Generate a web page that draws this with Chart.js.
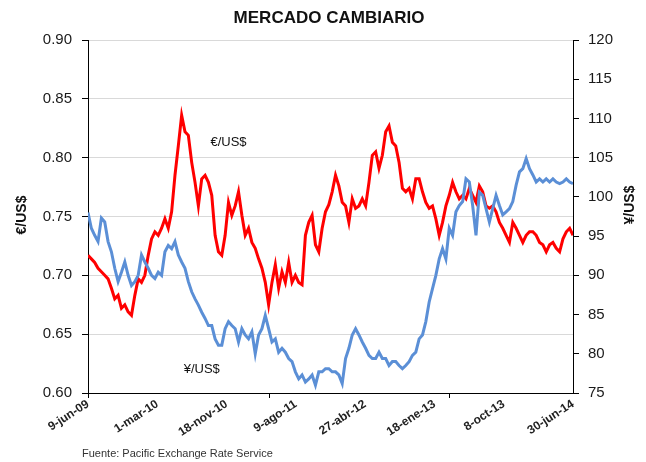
<!DOCTYPE html>
<html>
<head>
<meta charset="utf-8">
<script src="https://cdn.jsdelivr.net/npm/chart.js@4.4.1/dist/chart.umd.min.js"></script>
<style>
  html, body { margin: 0; padding: 0; background: #fff; }
  #wrap { width: 646px; height: 462px; }
</style>
</head>
<body>
<div id="wrap"><canvas id="fxChart" width="646" height="462"></canvas></div>
<script>
const chartTitle = "MERCADO CAMBIARIO";
const sourceNote = "Fuente: Pacific Exchange Rate Service";

const dateLabels = ["9-jun-09", "1-mar-10", "18-nov-10", "9-ago-11", "27-abr-12", "18-ene-13", "8-oct-13", "30-jun-14"];

// euros per dollar (left axis)
const eurUsd = [
  0.717, 0.714, 0.711, 0.706, 0.703, 0.700, 0.697, 0.689, 0.680, 0.683, 0.672, 0.675, 0.669, 0.666, 0.683, 0.697, 0.694, 0.700, 0.717, 0.731, 0.737, 0.734, 0.740, 0.748, 0.740, 0.754, 0.785, 0.810, 0.836, 0.822, 0.819, 0.796, 0.779, 0.759, 0.782, 0.785, 0.779,
  0.768, 0.734, 0.720, 0.717, 0.734, 0.762, 0.751, 0.759, 0.771, 0.751, 0.734, 0.740, 0.728, 0.723, 0.714, 0.706, 0.694, 0.675, 0.694, 0.709, 0.689, 0.703, 0.694, 0.711, 0.694, 0.700, 0.694, 0.692, 0.734, 0.745, 0.751, 0.726, 0.720, 0.740, 0.754, 0.760,
  0.771, 0.785, 0.776, 0.762, 0.759, 0.745, 0.765, 0.757, 0.759, 0.765, 0.759, 0.779, 0.802, 0.805, 0.791, 0.802, 0.822, 0.827, 0.813, 0.810, 0.796, 0.774, 0.771, 0.774, 0.765, 0.782, 0.782, 0.771, 0.762, 0.757, 0.759, 0.748, 0.734, 0.745, 0.759, 0.768,
  0.779, 0.771, 0.765, 0.768, 0.765, 0.774, 0.768, 0.762, 0.776, 0.771, 0.759, 0.757, 0.759, 0.754, 0.745, 0.740, 0.734, 0.728, 0.745, 0.740, 0.734, 0.728, 0.734, 0.737, 0.737, 0.734, 0.728, 0.726, 0.720, 0.726, 0.728, 0.723, 0.720, 0.731, 0.737, 0.740, 0.734
];

// yen per dollar (right axis)
const jpyUsd = [
  98.0, 96.0, 95.1, 94.3, 97.3, 96.8, 94.3, 93.0, 90.9, 89.2, 90.4, 91.7, 90.0, 88.7, 89.2, 90.0, 92.6, 91.7, 90.9, 90.0, 89.6, 90.4, 90.0, 93.0, 93.8, 93.4, 94.3, 92.6, 91.7, 90.9, 89.2, 87.9, 87.0, 86.2, 85.3, 84.5, 83.6,
  83.6, 81.9, 81.1, 81.1, 83.2, 84.1, 83.6, 83.2, 81.5, 83.2, 82.4, 81.9, 82.8, 80.0, 82.4, 83.2, 84.9, 83.2, 81.5, 81.9, 80.2, 80.7, 80.2, 79.4, 79.0, 77.7, 76.8, 77.3, 76.4, 76.8, 77.3, 76.0, 77.7, 77.7, 78.1, 78.1,
  77.7, 77.7, 77.3, 76.2, 79.4, 80.7, 82.4, 83.2, 82.4, 81.5, 80.7, 79.8, 79.4, 79.4, 80.2, 79.4, 79.4, 78.5, 79.0, 79.0, 78.5, 78.1, 78.5, 79.0, 79.8, 80.2, 81.9, 82.4, 84.1, 86.6, 88.3, 90.0, 92.1, 93.4, 92.1, 96.0,
  95.1, 98.1, 98.9, 99.4, 102.3, 101.9, 98.9, 95.1, 100.6, 100.2, 98.5, 96.8, 98.5, 100.2, 98.9, 97.7, 98.1, 98.5, 99.4, 101.5, 103.2, 103.6, 104.9, 103.6, 102.8, 101.9, 102.3, 101.9, 102.3, 101.9, 102.3, 101.9, 101.7, 101.9, 102.3, 101.9, 101.7
];

const lastIdx = eurUsd.length - 1;
const xMarkStep = 54;

// series names written next to the lines, placed in data units
const seriesTags = [
  { text: "€/US$", x: 42, y: 0.813, axis: "yEur" },
  { text: "¥/US$", x: 34, y: 78.0, axis: "yJpy" }
];

const decor = {
  id: "decor",
  afterDraw(chart) {
    const { ctx, chartArea, scales } = chart;
    ctx.save();
    ctx.fillStyle = "#111";

    ctx.font = 'bold 17px "Liberation Sans", Arial, sans-serif';
    ctx.textAlign = "center";
    ctx.textBaseline = "middle";
    ctx.fillText(chartTitle, 329, 18);

    // axis titles, both reading upwards
    ctx.font = 'bold 14px "Liberation Sans", Arial, sans-serif';
    ctx.save();
    ctx.translate(22, 215);
    ctx.rotate(-Math.PI / 2);
    ctx.fillText("€/US$", 0, 0);
    ctx.restore();
    ctx.save();
    ctx.translate(630, 205);
    ctx.rotate(-Math.PI / 2);
    ctx.fillText("¥/US$", 0, 0);
    ctx.restore();

    ctx.font = '13px "Liberation Sans", Arial, sans-serif';
    seriesTags.forEach(t => {
      ctx.fillText(t.text, scales.x.getPixelForValue(t.x), scales[t.axis].getPixelForValue(t.y));
    });

    // small tick marks under the date axis
    ctx.strokeStyle = "#000";
    ctx.lineWidth = 1;
    ctx.beginPath();
    for (let v = 0; v <= lastIdx; v += xMarkStep) {
      const px = Math.round(scales.x.getPixelForValue(v)) + 0.5;
      ctx.moveTo(px, chartArea.bottom);
      ctx.lineTo(px, chartArea.bottom + 5);
    }
    ctx.stroke();

    ctx.font = '11px "Liberation Sans", Arial, sans-serif';
    ctx.fillStyle = "#333";
    ctx.textAlign = "left";
    ctx.fillText(sourceNote, 82, 454);
    ctx.restore();
  }
};

new Chart(document.getElementById("fxChart"), {
  type: "line",
  data: {
    datasets: [
      {
        label: "¥/US$",
        data: jpyUsd.map((v, i) => ({ x: i, y: v })),
        yAxisID: "yJpy",
        borderColor: "#5b8fd6",
        borderWidth: 3,
        pointRadius: 0,
        tension: 0
      },
      {
        label: "€/US$",
        data: eurUsd.map((v, i) => ({ x: i, y: v })),
        yAxisID: "yEur",
        borderColor: "#ff0000",
        borderWidth: 3,
        pointRadius: 0,
        tension: 0
      }
    ]
  },
  options: {
    responsive: false,
    animation: false,
    layout: { padding: { top: 40, left: 0, right: 0, bottom: 0 } },
    plugins: {
      legend: { display: false },
      tooltip: { enabled: false }
    },
    scales: {
      x: {
        type: "linear",
        min: 0,
        max: lastIdx,
        afterBuildTicks: s => {
          s.ticks = dateLabels.map((_, i) => ({ value: i * lastIdx / (dateLabels.length - 1) }));
        },
        afterFit: s => { s.height = 69; },
        grid: { display: true, drawOnChartArea: false, drawTicks: false },
        border: { color: "#000", width: 1 },
        ticks: {
          autoSkip: false,
          minRotation: 33,
          maxRotation: 33,
          padding: 4,
          color: "#222",
          font: { family: '"Liberation Sans", Arial, sans-serif', size: 12, weight: "bold" },
          callback: (v, i) => dateLabels[i]
        }
      },
      yEur: {
        position: "left",
        min: 0.6,
        max: 0.9,
        afterFit: s => { s.width = 88; },
        grid: { color: "#d9d9d9", tickColor: "#000", tickLength: 6 },
        border: { color: "#000", width: 1 },
        ticks: {
          stepSize: 0.05,
          padding: 10,
          color: "#1a1a1a",
          font: { family: '"Liberation Sans", Arial, sans-serif', size: 15 },
          callback: v => v.toFixed(2)
        }
      },
      yJpy: {
        position: "right",
        min: 75,
        max: 120,
        afterFit: s => { s.width = 73; },
        grid: { drawOnChartArea: false, tickColor: "#000", tickLength: 6 },
        border: { color: "#000", width: 1 },
        ticks: {
          stepSize: 5,
          padding: 9,
          color: "#1a1a1a",
          font: { family: '"Liberation Sans", Arial, sans-serif', size: 15 }
        }
      }
    }
  },
  plugins: [decor]
});
</script>
</body>
</html>
